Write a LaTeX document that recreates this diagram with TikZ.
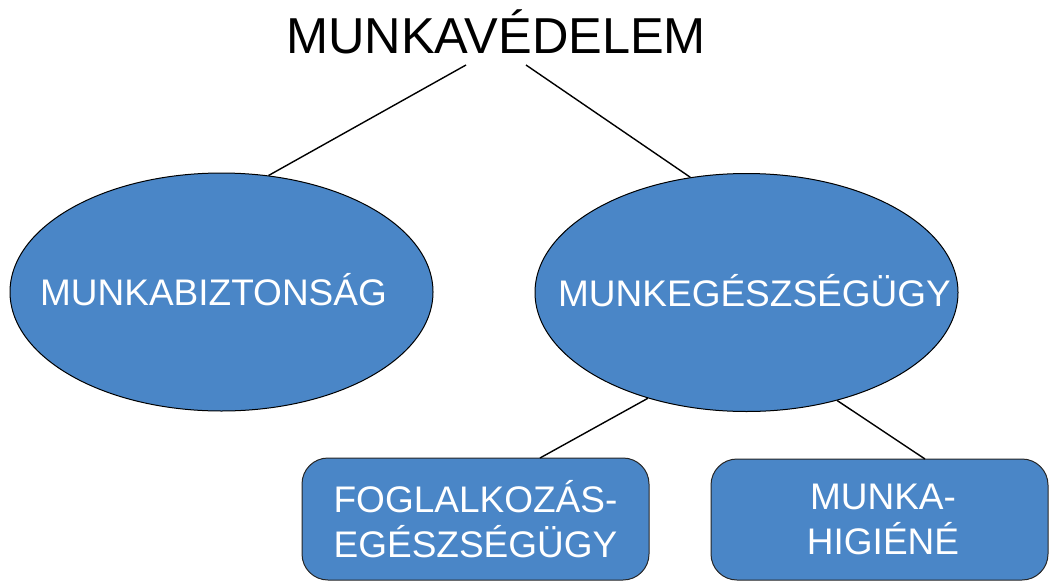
\documentclass[tikz,border=0pt]{standalone}
\usepackage{fontspec}
\setmainfont{Liberation Sans}
\usetikzlibrary{shapes.geometric}
\definecolor{fillblue}{RGB}{74,134,199}
\begin{document}
\begin{tikzpicture}[x=1pt,y=-1pt,
  bubble/.style={ellipse,draw=black,line width=1pt,fill=fillblue,text=white,
    minimum width=423pt,minimum height=238pt,inner sep=0pt,
    font=\fontsize{37}{40}\selectfont},
  leaf/.style={rectangle,rounded corners=26pt,draw=black!85,line width=1pt,fill=fillblue,text=white,
    inner sep=0pt,align=center,font=\fontsize{37}{45}\selectfont},
  link/.style={draw=black,line width=1.4pt}]
\useasboundingbox (0,0) rectangle (1049,581);
\clip (0,0) rectangle (1049,581);
\node[font=\fontsize{50.5}{56}\selectfont,anchor=base] (title) at (496,53) {MUNKAVÉDELEM};
\node[bubble] (e1) at (221.5,292) {\makebox[0pt]{\raisebox{5pt}{MUNKABIZTONSÁG}\kern16pt}};
\node[bubble] (e2) at (746.5,292.5) {\makebox[0pt]{\kern16pt\raisebox{5pt}{MUNKEGÉSZSÉGÜGY}}};
\node[leaf,minimum width=347pt,minimum height=122pt] (b1) at (475.5,519) {FOGLALKOZÁS-\\EGÉSZSÉGÜGY};
\node[leaf,minimum width=337pt,minimum height=121pt] (b2) at (879.5,519.5) {\kern7pt MUNKA-\\\kern7pt HIGIÉNÉ};
\coordinate (tl) at (466,65);
\coordinate (tr) at (526,65);
\coordinate (b1top) at (540,458);
\coordinate (b2top) at (925,459);
\draw[link] (tl) -- (e1.68);
\draw[link] (tr) -- (e2.116);
\draw[link] (e2.227) -- (b1top);
\draw[link] (e2.310) -- (b2top);
\end{tikzpicture}
\end{document}
